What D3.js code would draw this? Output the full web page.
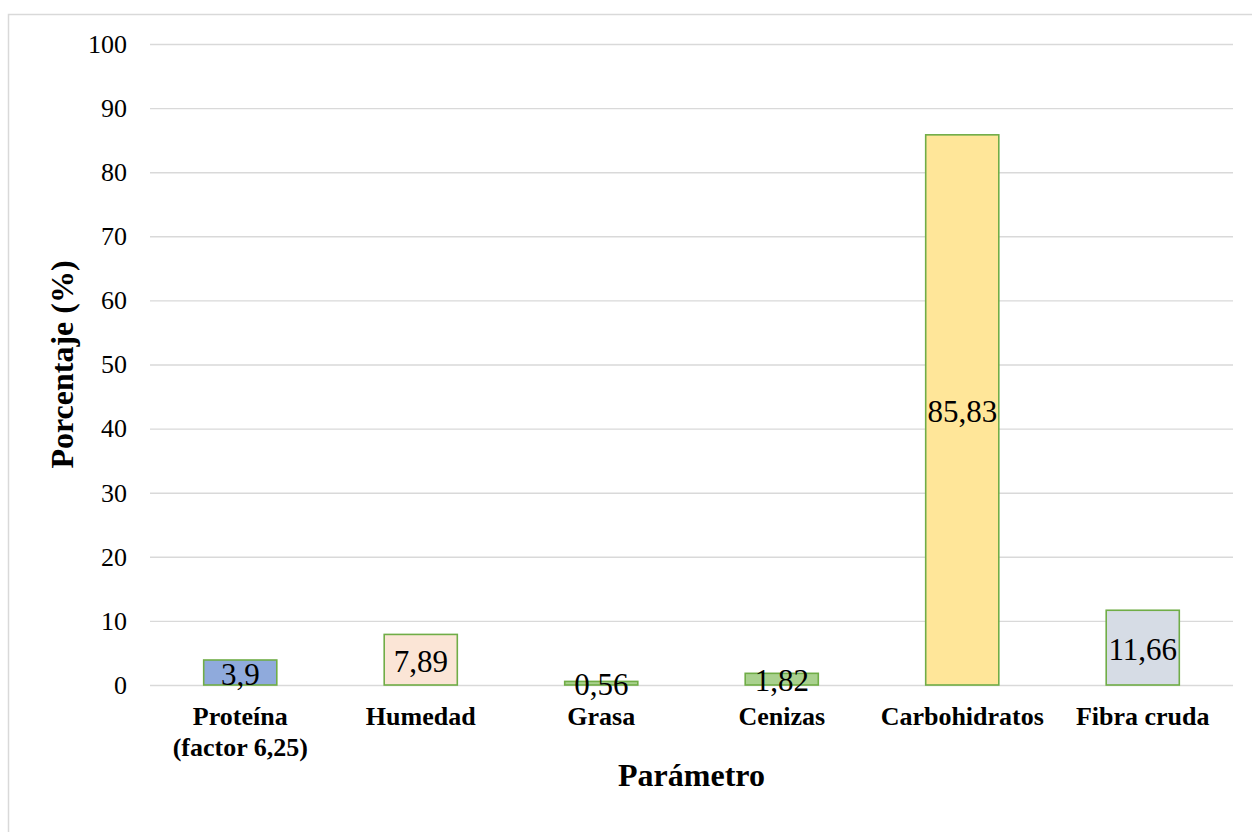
<!DOCTYPE html>
<html>
<head>
<meta charset="utf-8">
<script src="https://cdn.jsdelivr.net/npm/d3@7"></script>
<style>
  html, body { margin: 0; padding: 0; background: #fff; }
  svg { display: block; }
  text { font-family: "Liberation Serif", "Times New Roman", serif; fill: #000; }
</style>
</head>
<body>
<svg id="chart" width="1252" height="832"></svg>
<script>
// Composición proximal (%)
const categories = [["Proteína", "(factor 6,25)"], ["Humedad"], ["Grasa"], ["Cenizas"], ["Carbohidratos"], ["Fibra cruda"]];
const values = [3.9, 7.89, 0.56, 1.82, 85.83, 11.66];
const valueLabels = ["3,9", "7,89", "0,56", "1,82", "85,83", "11,66"];
const fills = ["#8faadc", "#fbe5d6", "#a9d18e", "#a9d18e", "#ffe699", "#d6dce5"];
const yTicks = [0, 10, 20, 30, 40, 50, 60, 70, 80, 90, 100];

const svg = d3.select("#chart");
const plot = { left: 150, right: 1233, top: 44, bottom: 685 };

// chart frame
svg.append("rect")
  .attr("x", 8.5).attr("y", 14.5)
  .attr("width", 1300).attr("height", 900)
  .attr("fill", "none").attr("stroke", "#d9d9d9").attr("stroke-width", 1.5);

const x = d3.scaleBand()
  .domain(d3.range(categories.length))
  .range([plot.left, plot.right])
  .paddingInner(0.595)
  .paddingOuter(0.2975);

const y = d3.scaleLinear().domain([0, 100]).range([plot.bottom, plot.top]);

// gridlines + tick labels
const yAxis = d3.axisLeft(y).tickValues(yTicks).tickSize(-(plot.right - plot.left)).tickPadding(23);
const gy = svg.append("g").attr("transform", `translate(${plot.left},0)`).call(yAxis);
gy.select(".domain").remove();
gy.selectAll(".tick line").attr("stroke", "#d9d9d9").attr("stroke-width", 1.4);
gy.selectAll(".tick text")
  .attr("font-family", "'Liberation Serif', 'Times New Roman', serif")
  .attr("font-size", 26).attr("fill", "#000");

// bars
svg.append("g").selectAll("rect")
  .data(values)
  .join("rect")
  .attr("x", (d, i) => x(i))
  .attr("width", x.bandwidth())
  .attr("y", d => y(d))
  .attr("height", d => y(0) - y(d))
  .attr("fill", (d, i) => fills[i])
  .attr("stroke", "#70ad47")
  .attr("stroke-width", 1.6);

// value labels (centered in each bar)
svg.append("g").selectAll("text")
  .data(values)
  .join("text")
  .attr("x", (d, i) => x(i) + x.bandwidth() / 2)
  .attr("y", d => (y(d) + y(0)) / 2 + 12)
  .attr("text-anchor", "middle")
  .attr("font-size", 31)
  .text((d, i) => valueLabels[i]);

// category labels
const catG = svg.append("g");
categories.forEach((lines, i) => {
  const t = catG.append("text")
    .attr("x", x(i) + x.bandwidth() / 2)
    .attr("y", 725)
    .attr("text-anchor", "middle")
    .attr("font-size", 26)
    .attr("font-weight", "bold");
  lines.forEach((ln, j) => {
    t.append("tspan")
      .attr("x", x(i) + x.bandwidth() / 2)
      .attr("dy", j === 0 ? 0 : 31)
      .text(ln);
  });
});

// axis titles
svg.append("text")
  .attr("x", (plot.left + plot.right) / 2)
  .attr("y", 786)
  .attr("text-anchor", "middle")
  .attr("font-size", 32)
  .attr("font-weight", "bold")
  .text("Parámetro");

svg.append("text")
  .attr("transform", `translate(73,${(plot.top + plot.bottom) / 2}) rotate(-90)`)
  .attr("text-anchor", "middle")
  .attr("font-size", 32)
  .attr("font-weight", "bold")
  .text("Porcentaje (%)");
</script>
</body>
</html>
